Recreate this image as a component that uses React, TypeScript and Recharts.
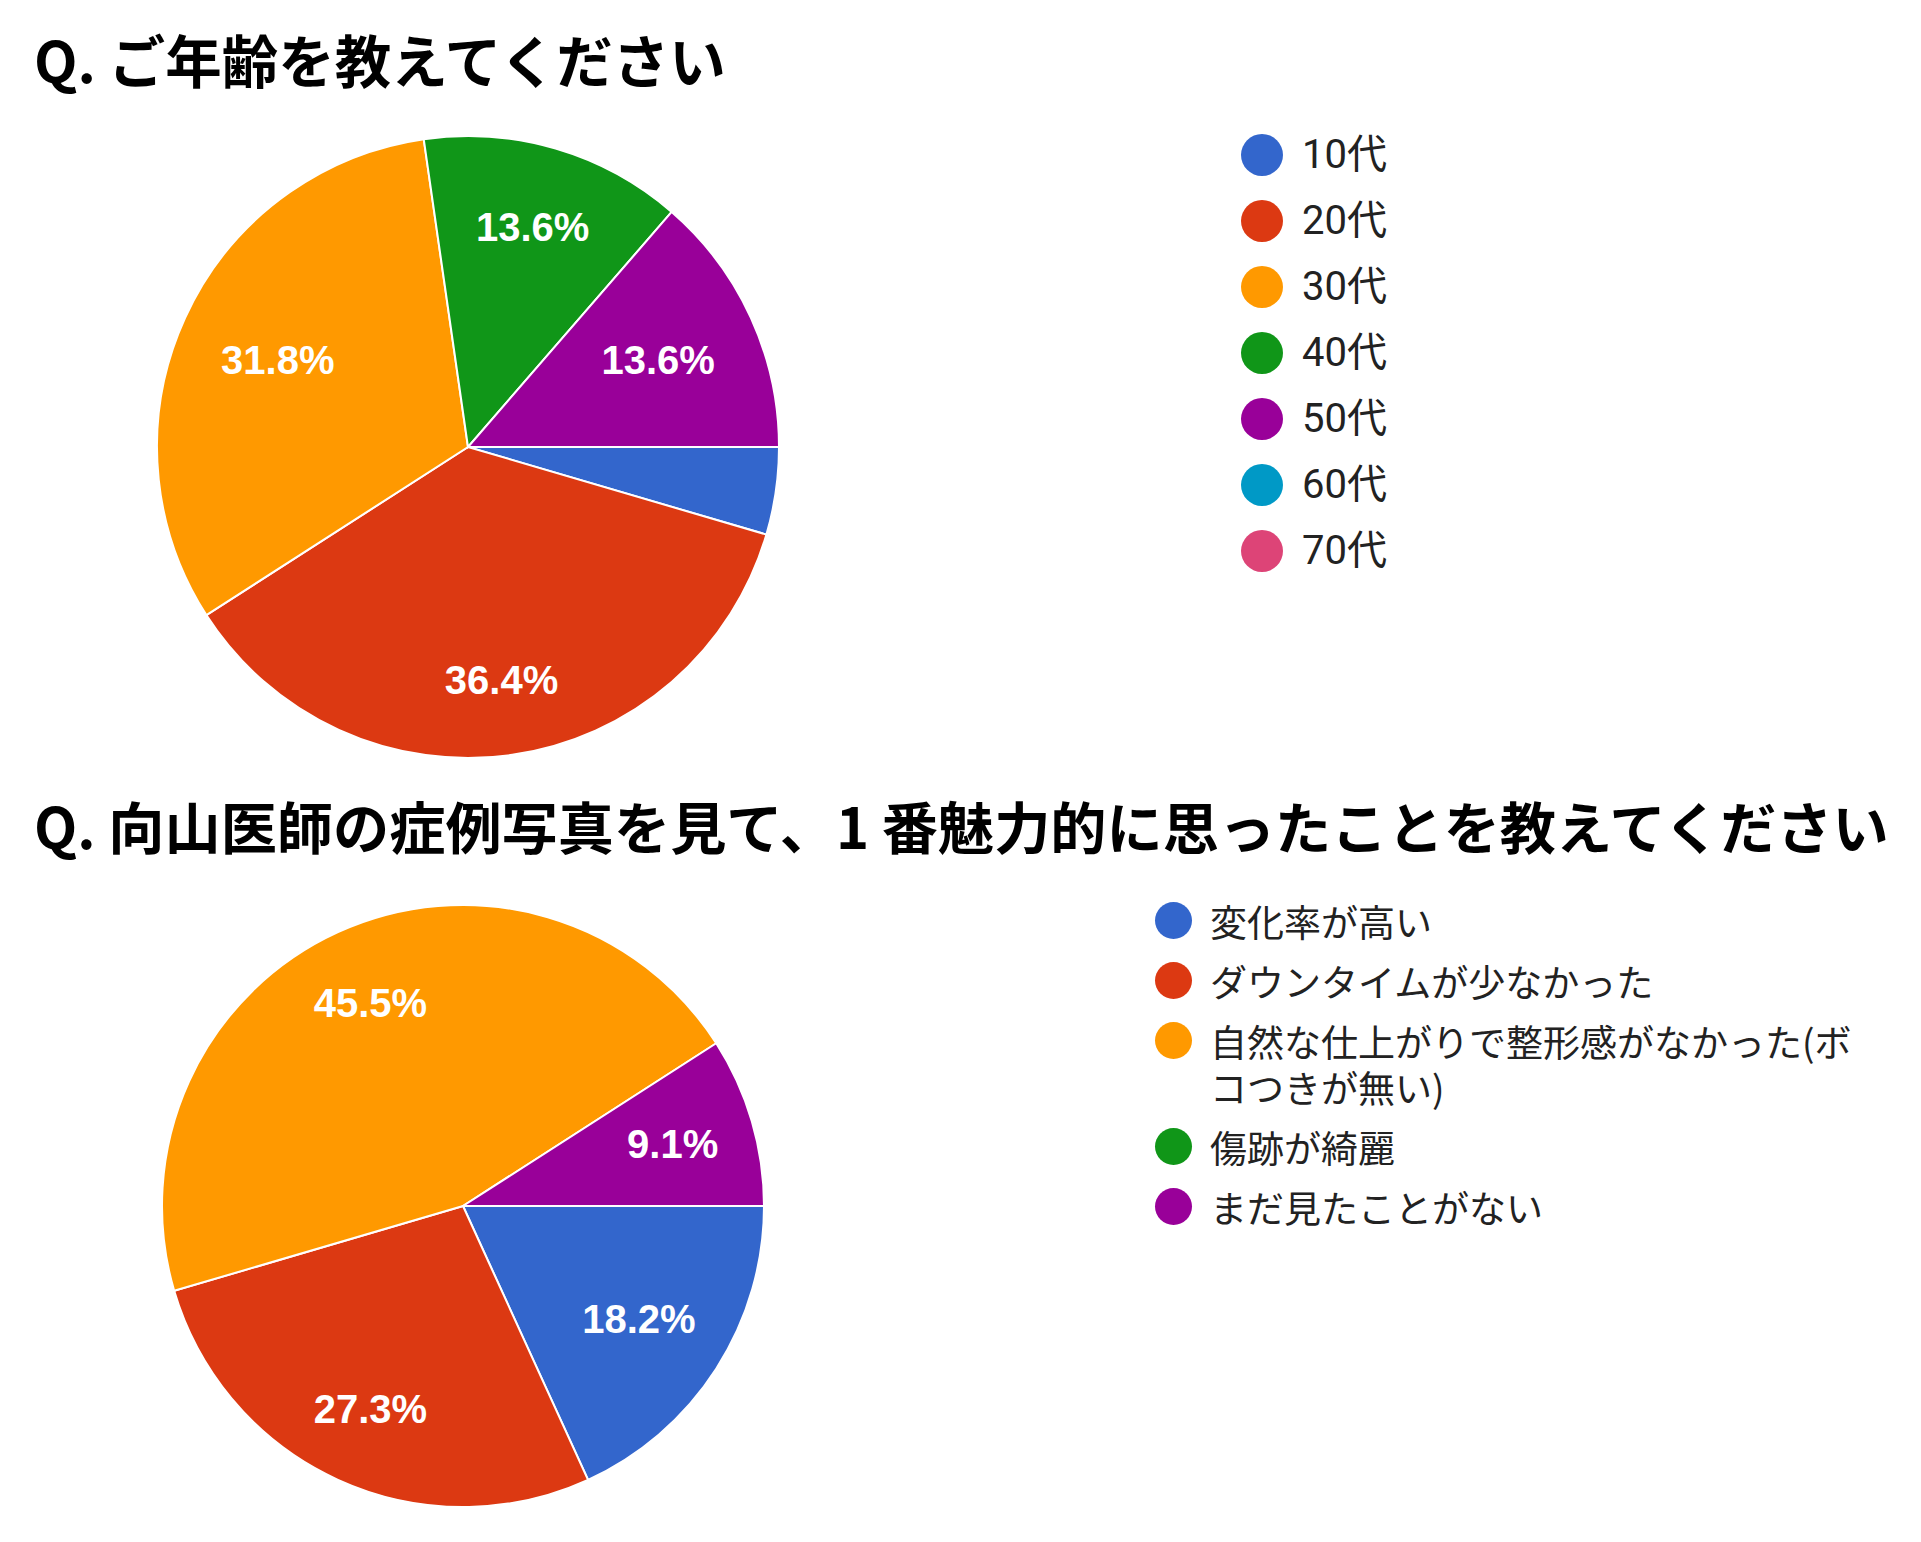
import React from 'react';
import { PieChart, Pie, Cell } from 'recharts';

const COLORS = ['#3366cc', '#dc3912', '#ff9900', '#109618', '#990099', '#0099c6', '#dd4477'];

const ageCategories = ['10代', '20代', '30代', '40代', '50代', '60代', '70代'];
const ageCounts = [1, 8, 7, 3, 3, 0, 0];

const appealCategories = [
  '変化率が高い',
  'ダウンタイムが少なかった',
  '自然な仕上がりで整形感がなかった(ボコつきが無い)',
  '傷跡が綺麗',
  'まだ見たことがない',
];
const appealCounts = [2, 3, 5, 0, 1];

const titles = [
  'Q. ご年齢を教えてください',
  'Q. 向山医師の症例写真を見て、1 番魅力的に思ったことを教えてください',
];

const ageData = ageCategories.map((name, i) => ({ name, value: ageCounts[i] }));
const appealData = appealCategories.map((name, i) => ({ name, value: appealCounts[i] }));

const RAD = Math.PI / 180;
const LABEL_FONT = 40;
const CHAR_EM: Record<string, number> = { '.': 0.278, '%': 0.889 };

function textHalfWidth(t: string) {
  let em = 0;
  for (const ch of t) em += CHAR_EM[ch] ?? 0.556;
  return (em * LABEL_FONT) / 2;
}

// Google-style placement: the label box's far corner sits at distance D from the centre.
function makeLabel(D: number) {
  return function renderLabel(props: any) {
    const { cx, cy, midAngle, percent, index } = props;
    if (!percent || percent < 0.05) return null;
    const txt = `${(percent * 100).toFixed(1)}%`;
    const c = Math.cos(-midAngle * RAD);
    const s = Math.sin(-midAngle * RAD);
    const w = textHalfWidth(txt);
    const h = LABEL_FONT / 2;
    const B = w * Math.abs(c) + h * Math.abs(s);
    const t = -B + Math.sqrt(B * B - (w * w + h * h - D * D));
    const x = cx + t * c;
    const y = cy + t * s;
    return (
      <text
        key={`lbl-${index}`}
        x={x}
        y={y}
        fill="#ffffff"
        textAnchor="middle"
        dominantBaseline="central"
        fontSize={LABEL_FONT}
        fontWeight={700}
        fontFamily="'Liberation Sans', Arial, sans-serif"
      >
        {txt}
      </text>
    );
  };
}

const titleStyle: React.CSSProperties = {
  position: 'absolute',
  left: 34,
  fontFamily: "'Noto Sans CJK JP', sans-serif",
  fontWeight: 700,
  lineHeight: '56px',
  color: '#000',
  whiteSpace: 'nowrap',
};

export default function App() {
  return (
    <div
      style={{
        position: 'absolute',
        left: 0,
        top: 0,
        width: 1921,
        height: 1542,
        background: '#ffffff',
        overflow: 'hidden',
      }}
    >
      <div style={{ position: 'absolute', left: 0, top: 0 }}>
        <PieChart width={1921} height={1542} margin={{ top: 0, right: 0, bottom: 0, left: 0 }}>
          <Pie
            data={ageData}
            dataKey="value"
            nameKey="name"
            cx={468}
            cy={447}
            outerRadius={311}
            startAngle={0}
            endAngle={-360}
            stroke="#ffffff"
            strokeWidth={2}
            label={makeLabel(269)}
            labelLine={false}
            isAnimationActive={false}
          >
            {ageData.map((d, i) => (
              <Cell key={d.name} fill={COLORS[i]} />
            ))}
          </Pie>
          <Pie
            data={appealData}
            dataKey="value"
            nameKey="name"
            cx={463}
            cy={1206}
            outerRadius={301}
            startAngle={0}
            endAngle={-360}
            stroke="#ffffff"
            strokeWidth={2}
            label={makeLabel(268)}
            labelLine={false}
            isAnimationActive={false}
          >
            {appealData.map((d, i) => (
              <Cell key={d.name} fill={COLORS[i]} />
            ))}
          </Pie>
        </PieChart>
      </div>

      <div style={{ ...titleStyle, top: 30, fontSize: 56.5 }}>{titles[0]}</div>
      <div style={{ ...titleStyle, top: 797, fontSize: 56.2 }}>{titles[1]}</div>

      {/* Legend 1 */}
      <div style={{ position: 'absolute', left: 1241, top: 122, display: 'flex', flexDirection: 'column' }}>
        {ageCategories.map((name, i) => (
          <div key={name} style={{ display: 'flex', alignItems: 'center', height: 66 }}>
            <div style={{ width: 42, height: 42, borderRadius: '50%', background: COLORS[i] }} />
            <div
              style={{
                marginLeft: 19,
                fontFamily: "Roboto, 'Noto Sans CJK JP', sans-serif",
                fontSize: 40,
                lineHeight: '40px',
                color: '#222',
                whiteSpace: 'nowrap',
              }}
            >
              {name}
            </div>
          </div>
        ))}
      </div>

      {/* Legend 2 */}
      <div style={{ position: 'absolute', left: 1155, top: 898, display: 'flex', flexDirection: 'column', gap: 14 }}>
        {appealCategories.map((name, i) => (
          <div key={name} style={{ display: 'flex', alignItems: 'flex-start' }}>
            <div
              style={{
                width: 37,
                height: 37,
                marginTop: 4,
                borderRadius: '50%',
                background: COLORS[i],
                flex: '0 0 auto',
              }}
            />
            <div
              style={{
                marginLeft: 18,
                width: 660,
                fontFamily: "'Noto Sans CJK JP', sans-serif",
                fontSize: 37,
                lineHeight: '46px',
                color: '#222',
              }}
            >
              {name}
            </div>
          </div>
        ))}
      </div>
    </div>
  );
}
